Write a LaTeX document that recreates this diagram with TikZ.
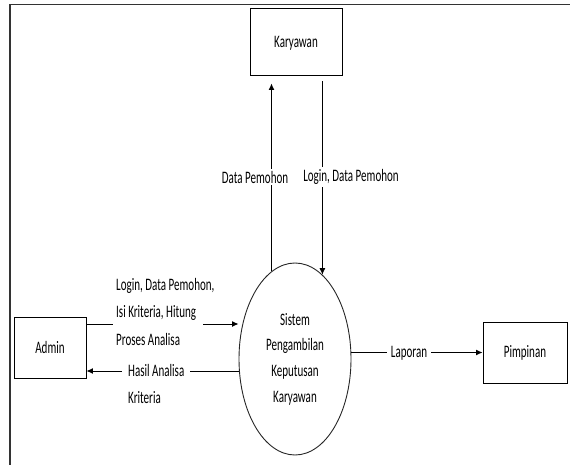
\documentclass[tikz,border=0pt]{standalone}
\usepackage{fontspec}
\setmainfont{Carlito}[FakeStretch=0.63]
\usetikzlibrary{arrows.meta,shapes.geometric}

\begin{document}
\begin{tikzpicture}[x=1pt,y=-1pt,
  every node/.style={font=\fontsize{17.5}{20}\selectfont, text=black},
  entity/.style={draw=black, line width=0.95pt, inner sep=0pt},
  process/.style={ellipse, draw=black!85, line width=0.9pt, inner sep=0pt,
    minimum width=112pt, minimum height=192pt, align=center,
    font=\fontsize{17.5}{25.7}\selectfont},
  flow/.style={draw=black, line width=1pt, -{Latex[length=6.5pt,width=6pt]}},
  flowlabel/.style={fill=white, inner xsep=4pt, inner ysep=2pt},
  frame/.style={draw=black!80, line width=1.6pt}]

  \useasboundingbox (0,0) rectangle (570,465);

  % page frame
  \draw[frame] (570,4.5) -- (10,4.5) -- (10,465);

  % external entities and the process
  \node[entity, minimum width=92pt, minimum height=67pt, text depth=-2pt] (karyawan) at (296,41.5) {Karyawan};
  \node[entity, minimum width=72pt, minimum height=61pt] (admin) at (50,347.5) {Admin};
  \node[entity, minimum width=84pt, minimum height=61pt] (pimpinan) at (525,352.5) {Pimpinan};
  \node[process] (proc) at (295,359) {Sistem\\Pengambilan\\Keputusan\\Karyawan};

  % helper coordinates for the flow ends
  \coordinate (kgapA) at ([yshift=-8pt]karyawan.south);
  \coordinate (kgapB) at ([yshift=-6pt]karyawan.south);
  \coordinate (inY) at (0,324);
  \coordinate (outY) at (0,371);

  % data flows
  \draw[flow] (proc.105) -- (proc.105 |- kgapA);
  \draw[flow, line width=0.8pt] (proc.72 |- kgapB) -- (proc.72);
  \draw[flow] (admin.east |- inY) -- (proc.west |- inY);
  \draw[flow] (proc.west |- outY) -- (admin.east |- outY);
  \draw[flow] (proc.east |- pimpinan.west) -- (pimpinan.west);

  % flow labels
  \node[flowlabel] (lblA) at (255,177) {Data Pemohon};
  \node[flowlabel] (lblB) at (351,177) {Login, Data Pemohon};
  \node[flowlabel, anchor=west, inner xsep=3pt, align=left,
        font=\fontsize{17.5}{27.5}\selectfont] (lblC) at (113,311.5)
    {\makebox[84pt][l]{Login, Data Pemohon,}\\\makebox[84pt][l]{Isi Kriteria, Hitung}\\\makebox[84pt][l]{Proses Analisa}};
  \node[flowlabel, anchor=west, inner xsep=6pt, align=left,
        font=\fontsize{17.5}{27}\selectfont] (lblD) at (122,383.5)
    {Hasil Analisa\\Kriteria};
  \node[flowlabel] (lblE) at (409,353) {Laporan};
\end{tikzpicture}
\end{document}
